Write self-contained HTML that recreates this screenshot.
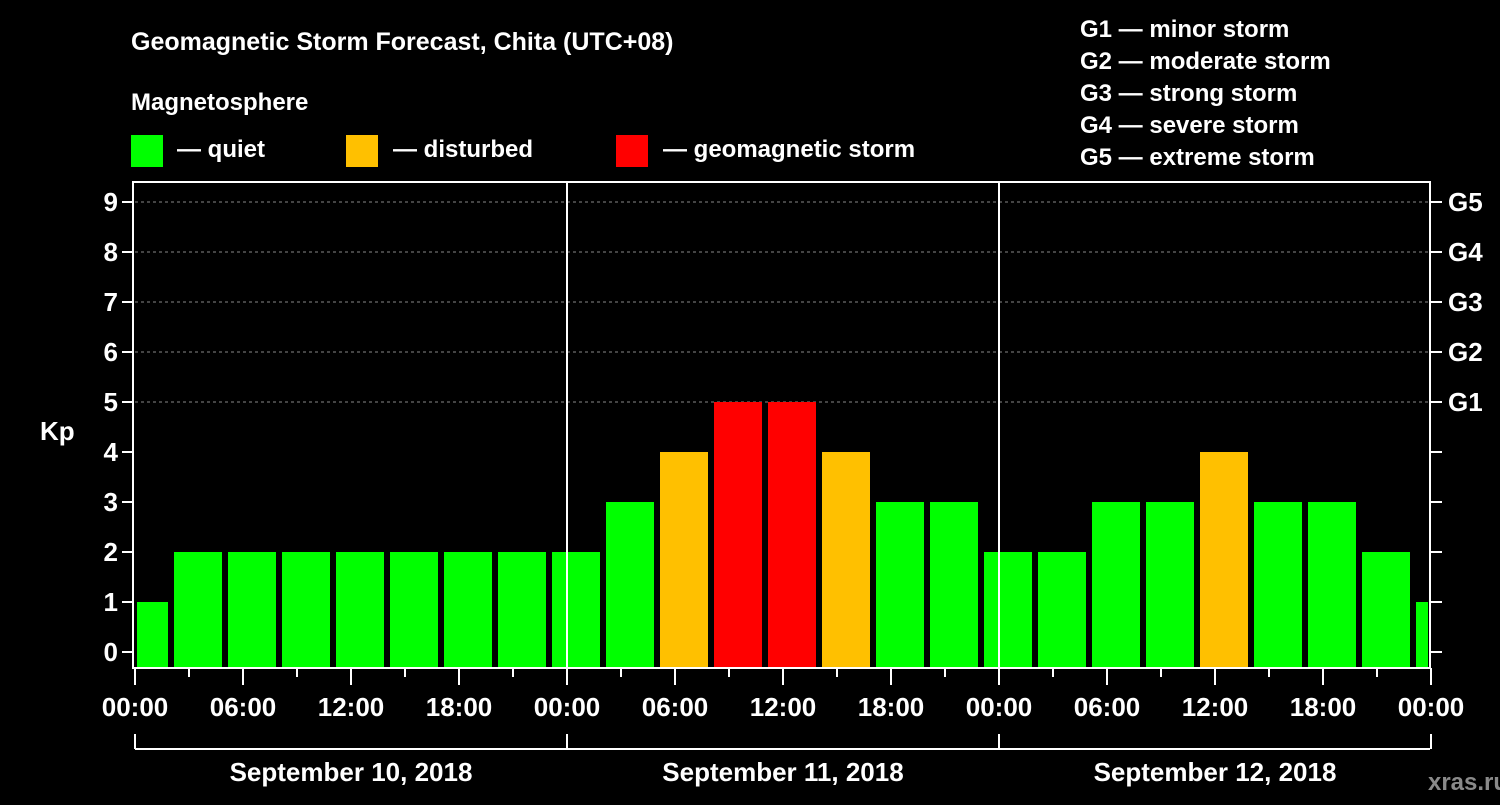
<!DOCTYPE html>
<html><head><meta charset="utf-8"><style>
body{margin:0;background:#000;width:1500px;height:800px;overflow:hidden}
svg text{font-family:"Liberation Sans",Arial,sans-serif;font-weight:bold;fill:#fff}
</style></head><body>
<svg id="chart" width="1500" height="800" xmlns="http://www.w3.org/2000/svg">
<text x="131" y="50" font-size="25">Geomagnetic Storm Forecast, Chita (UTC+08)</text>
<text x="131" y="110" font-size="24">Magnetosphere</text>
<g>
<rect x="131" y="135" width="32" height="32" fill="#00ff00"/>
<text x="177" y="157" font-size="24">— quiet</text>
<rect x="346" y="135" width="32" height="32" fill="#ffc000"/>
<text x="393" y="157" font-size="24">— disturbed</text>
<rect x="616" y="135" width="32" height="32" fill="#ff0000"/>
<text x="663" y="157" font-size="24">— geomagnetic storm</text>
</g>
<g font-size="24">
<text x="1080" y="37">G1 — minor storm</text>
<text x="1080" y="69">G2 — moderate storm</text>
<text x="1080" y="101">G3 — strong storm</text>
<text x="1080" y="133">G4 — severe storm</text>
<text x="1080" y="165">G5 — extreme storm</text>
</g>
<g id="grid"></g><g id="bars"></g><g id="axes"></g>
<text x="40" y="440" font-size="26">Kp</text>
<text x="1468" y="790" font-size="24" fill="#888" style="fill:#8a8a8a" text-anchor="middle">xras.ru</text>
</svg>
<script>
const kpValues=[1,2,2,2,2,2,2,2,2,3,4,5,5,4,3,3,2,2,3,3,4,3,3,2,1];
const yTicks=[0,1,2,3,4,5,6,7,8,9];
const gLabels=["G1","G2","G3","G4","G5"];
const xLabels=["00:00","06:00","12:00","18:00","00:00","06:00","12:00","18:00","00:00","06:00","12:00","18:00","00:00"];
const dayLabels=["September 10, 2018","September 11, 2018","September 12, 2018"];
const NS="http://www.w3.org/2000/svg";
const X0=135,PX_H=18,Y0=652,PX_K=50,TOP=182,BOT=668,RIGHT=1430;
const x=h=>X0+h*PX_H, y=v=>Y0-v*PX_K;
function mk(tag,attrs,parent){const e=document.createElementNS(NS,tag);for(const k in attrs)e.setAttribute(k,attrs[k]);parent.appendChild(e);return e;}
const grid=document.getElementById('grid'),bars=document.getElementById('bars'),axes=document.getElementById('axes');
function col(v){return v>=5?"#ff0000":v>=4?"#ffc000":"#00ff00";}
kpValues.forEach((v,k)=>{const c=x(0.5+3*k);let l=c-24,r=c+24;l=Math.max(l,X0+2);r=Math.min(r,RIGHT-2);
const b=mk('rect',{x:l,y:y(v),width:r-l,height:BOT-y(v),fill:col(v)},bars);

});
yTicks.forEach(t=>{
if(t>=5){const g=mk('line',{x1:X0,x2:RIGHT,y1:y(t),y2:y(t),stroke:'#888','stroke-dasharray':'3,3','stroke-width':1},grid);

}
mk('line',{x1:122,x2:X0-2,y1:y(t),y2:y(t),stroke:'#fff','stroke-width':2},axes);
mk('line',{x1:RIGHT,x2:RIGHT+12,y1:y(t),y2:y(t),stroke:'#fff','stroke-width':2},axes);
const tx=mk('text',{x:118,y:y(t)+9,'font-size':26,'text-anchor':'end'},axes);tx.textContent=t;


if(t>=5){const g=mk('text',{x:1448,y:y(t)+9,'font-size':26},axes);g.textContent=gLabels[t-5];

}
});
mk('rect',{x:X0-2,y:TOP,width:RIGHT-X0+2,height:BOT-TOP,fill:'none',stroke:'#fff','stroke-width':2},axes);
[24,48].forEach(h=>mk('line',{x1:x(h),x2:x(h),y1:TOP,y2:BOT,stroke:'#fff','stroke-width':2},axes));
for(let h=0;h<=72;h+=3){mk('line',{x1:x(h),x2:x(h),y1:BOT,y2:BOT+(h%6==0?17:9),stroke:'#fff','stroke-width':2},axes);}
xLabels.forEach((s,i)=>{const t=mk('text',{x:x(i*6),y:716,'font-size':26,'text-anchor':'middle'},axes);t.textContent=s;

});
mk('line',{x1:X0,x2:RIGHT,y1:749,y2:749,stroke:'#fff','stroke-width':2},axes);
[0,24,48,72].forEach(h=>mk('line',{x1:x(h),x2:x(h),y1:734,y2:749,stroke:'#fff','stroke-width':2},axes));
dayLabels.forEach((s,i)=>{const t=mk('text',{x:x(12+24*i),y:781,'font-size':26,'text-anchor':'middle'},axes);t.textContent=s;

});
</script>
</body></html>
